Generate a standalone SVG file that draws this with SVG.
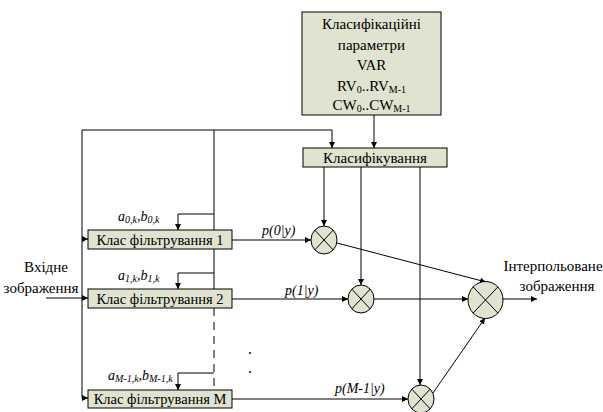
<svg xmlns="http://www.w3.org/2000/svg" width="603" height="412" viewBox="0 0 603 412">
<style>
text{font-family:"Liberation Serif","DejaVu Serif Condensed","DejaVu Serif",serif;font-size:15px;fill:#000}
.box{fill:#dfe3cf;stroke:#000;stroke-width:1}
.ln{fill:none;stroke:#000;stroke-width:1}
.it{font-style:italic;font-size:14px}
.sub{font-size:10px}
.fb{font-size:14.5px}
</style>
<defs>
<marker id="ar" viewBox="0 0 8 8" refX="8" refY="4" markerWidth="6" markerHeight="6" markerUnits="userSpaceOnUse" orient="auto">
<path d="M0,0 L8,4 L0,8 z" fill="#000"/>
</marker>
</defs>

<g id="connectors">
<polyline class="ln" points="82,130 332,130 332,148" marker-end="url(#ar)"/>
<line class="ln" x1="374" y1="115" x2="374" y2="148" marker-end="url(#ar)"/>
<line class="ln" x1="82" y1="130" x2="82" y2="398"/>
<line class="ln" x1="46" y1="298" x2="82" y2="298"/>
<line class="ln" x1="82" y1="239" x2="88" y2="239" marker-end="url(#ar)"/>
<line class="ln" x1="82" y1="298" x2="88" y2="298" marker-end="url(#ar)"/>
<line class="ln" x1="82" y1="398" x2="88" y2="398" marker-end="url(#ar)"/>
<line class="ln" x1="214" y1="130" x2="214" y2="308"/>
<line class="ln" x1="214" y1="308" x2="214" y2="390" stroke-dasharray="8,6"/>
<polyline class="ln" points="214,214 178,214 178,230" marker-end="url(#ar)"/>
<polyline class="ln" points="214,273 178,273 178,289" marker-end="url(#ar)"/>
<polyline class="ln" points="214,373 178,373 178,390" marker-end="url(#ar)"/>
<line class="ln" x1="324" y1="167" x2="324" y2="226" marker-end="url(#ar)"/>
<line class="ln" x1="361" y1="167" x2="361" y2="285" marker-end="url(#ar)"/>
<line class="ln" x1="420" y1="167" x2="420" y2="385" marker-end="url(#ar)"/>
<line class="ln" x1="232" y1="240" x2="311" y2="240" marker-end="url(#ar)"/>
<line class="ln" x1="232" y1="299" x2="348" y2="299" marker-end="url(#ar)"/>
<line class="ln" x1="232" y1="399" x2="408" y2="399" marker-end="url(#ar)"/>
<line class="ln" x1="337" y1="243" x2="486" y2="282" marker-end="url(#ar)"/>
<line class="ln" x1="374" y1="299" x2="468" y2="299" marker-end="url(#ar)"/>
<line class="ln" x1="433" y1="393" x2="485" y2="318" marker-end="url(#ar)"/>
<line class="ln" x1="503" y1="299" x2="537" y2="299" marker-end="url(#ar)"/>
</g>

<g id="params">
<rect class="box" x="302" y="12" width="139" height="103"/>
<text x="371.5" y="29" text-anchor="middle">Класифікаційні</text>
<text x="371.5" y="50" text-anchor="middle">параметри</text>
<text x="371.5" y="70" text-anchor="middle">VAR</text>
<text x="371.5" y="91" text-anchor="middle">RV<tspan class="sub" dy="2">0</tspan><tspan dy="-2">..RV</tspan><tspan class="sub" dy="2">M-1</tspan></text>
<text x="371.5" y="110" text-anchor="middle">CW<tspan class="sub" dy="2">0</tspan><tspan dy="-2">..CW</tspan><tspan class="sub" dy="2">M-1</tspan></text>
</g>

<g id="classifier">
<rect class="box" x="303" y="148" width="144" height="19"/>
<text x="375" y="162.5" text-anchor="middle">Класифікування</text>
</g>

<g id="filter1">
<rect class="box" x="88" y="230" width="144" height="19"/>
<text x="160" y="244.5" text-anchor="middle" class="fb">Клас фільтрування 1</text>
<text x="118" y="221" class="it">a<tspan class="sub" dy="2">0,k</tspan><tspan dy="-2">,b</tspan><tspan class="sub" dy="2">0,k</tspan></text>
</g>

<g id="filter2">
<rect class="box" x="88" y="289" width="144" height="19"/>
<text x="160" y="303.5" text-anchor="middle" class="fb">Клас фільтрування 2</text>
<text x="118" y="280" class="it">a<tspan class="sub" dy="2">1,k</tspan><tspan dy="-2">,b</tspan><tspan class="sub" dy="2">1,k</tspan></text>
</g>

<g id="filterM">
<rect class="box" x="88" y="390" width="144" height="18"/>
<text x="160" y="404" text-anchor="middle" class="fb">Клас фільтрування M</text>
<text x="108" y="380" class="it">a<tspan class="sub" dy="2">M-1,k</tspan><tspan dy="-2">,b</tspan><tspan class="sub" dy="2">M-1,k</tspan></text>
</g>

<g id="mult1">
<ellipse class="box" cx="324" cy="240" rx="13" ry="14"/>
<path class="ln" d="M314.8,230.1 L333.2,249.9 M333.2,230.1 L314.8,249.9"/>
<text x="262" y="235" class="it">p(0|y)</text>
</g>

<g id="mult2">
<ellipse class="box" cx="361" cy="299" rx="13" ry="14"/>
<path class="ln" d="M351.8,289.1 L370.2,308.9 M370.2,289.1 L351.8,308.9"/>
<text x="285" y="295" class="it">p(1|y)</text>
</g>

<g id="multM">
<ellipse class="box" cx="421" cy="399" rx="13" ry="14"/>
<path class="ln" d="M411.8,389.1 L430.2,408.9 M430.2,389.1 L411.8,408.9"/>
<text x="335" y="393" class="it">p(M-1|y)</text>
</g>

<g id="multOut">
<ellipse class="box" cx="485.5" cy="300" rx="17.5" ry="18.5"/>
<path class="ln" d="M473.1,286.9 L497.9,313.1 M497.9,286.9 L473.1,313.1"/>
</g>

<g id="output">
<text x="553" y="271" text-anchor="middle">Інтерпольоване</text>
<text x="557" y="291" text-anchor="middle">зображення</text>
</g>

<g id="input">
<text x="46" y="272" text-anchor="middle">Вхідне</text>
<text x="41" y="293" text-anchor="middle">зображення</text>
</g>

<g id="dots">
<circle cx="250" cy="353" r="1" fill="#000"/>
<circle cx="250" cy="372" r="1" fill="#000"/>
</g>
</svg>
